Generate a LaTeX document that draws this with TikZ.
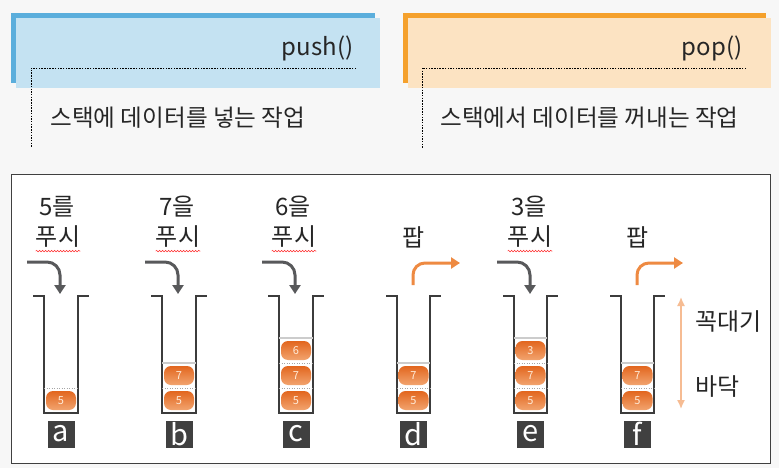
\documentclass[tikz,border=0pt]{standalone}
\usepackage{fontspec}
\setmainfont{Noto Sans CJK KR}
\usepackage{xcolor}
\usetikzlibrary{arrows.meta, positioning, decorations.pathmorphing}

\definecolor{pushdark}{HTML}{5BAEDC}
\definecolor{pushlight}{HTML}{C4E2F2}
\definecolor{popdark}{HTML}{F5A12C}
\definecolor{poplight}{HTML}{FCE3C2}
\definecolor{wallgray}{HTML}{3C3C3C}
\definecolor{pushgray}{HTML}{58595B}
\definecolor{poporange}{HTML}{EE8A42}
\definecolor{sideorange}{HTML}{F6BC93}
\definecolor{itemtop}{HTML}{E2661E}
\definecolor{itembot}{HTML}{F2A46F}

\begin{document}
\begin{tikzpicture}[
    x=1pt, y=-1pt,
    title/.style={anchor=east, font=\fontsize{24}{28}\selectfont, text=black!85},
    desc/.style={anchor=west, font=\fontsize{23.6}{28}\selectfont, text=black!85},
    guide/.style={draw=black, line width=0.8pt, dash pattern=on 1.5pt off 1.2pt},
    frame/.style={draw=black!75, line width=1pt, fill=white},
    wall/.style={draw=wallgray, line width=1.6pt},
    slotline/.style={draw=black!35, line width=0.5pt, dotted},
    topline/.style={draw=black!20, line width=1.2pt},
    item/.style={rectangle, rounded corners=7pt, minimum width=30pt, minimum height=19pt,
        inner sep=0pt, top color=itemtop, bottom color=itembot,
        text=white!85!orange, font=\fontsize{11}{12}\selectfont},
    tag/.style={rectangle, fill=black!75, minimum size=27pt, inner sep=0pt,
        text=white, font=\fontsize{29}{29}\selectfont},
    cmd/.style={inner sep=0pt, font=\fontsize{24}{28}\selectfont, text=black!85},
    squiggle/.style={draw=red!85, line width=0.5pt,
        decorate, decoration={snake, amplitude=0.8pt, segment length=3pt}},
    pusharrow/.style={-{Triangle[width=11pt, length=9pt]}, draw=pushgray, line width=3pt, rounded corners=13pt},
    poparrow/.style={-{Triangle[width=11pt, length=9pt]}, draw=poporange, line width=3pt, rounded corners=12pt},
    sidearrow/.style={{Latex[width=8pt, length=9pt]}-{Latex[width=8pt, length=9pt]}, draw=sideorange, line width=1.5pt}
]

\useasboundingbox (0,0) rectangle (779,468);
\fill[black!3] (0,0) rectangle (779,468);

% push() 상자
\fill[pushdark] (11,13) rectangle (375,83);
\fill[pushlight] (16,18) rectangle (380,88);
\node[title] (pushname) at (357,48) {push()};
\draw[guide] (356,68) -- (31,68) -- (31,148);
\node[desc] (pushdesc) at (47,118) {스택에 데이터를 넣는 작업};

% pop() 상자
\fill[popdark] (403,13) rectangle (766,83);
\fill[poplight] (408,18) rectangle (771,88);
\node[title] (popname) at (746,48) {pop()};
\draw[guide] (746,68) -- (422,68) -- (422,148);
\node[desc] (popdesc) at (437,118) {스택에서 데이터를 꺼내는 작업};

% 아래 테두리
\draw[frame] (11,174) rectangle (770,463);

% 스택 a
\node[cmd] (pusha1) at (57,207) {5를};
\node[cmd] (pusha2) at (58,237) {푸시};
\draw[squiggle] ([yshift=-3pt]pusha2.south west) -- ([yshift=-3pt]pusha2.south east);
\coordinate (ina0) at (27,262);
\coordinate (ina1) at (60,294);
\draw[pusharrow] (ina0) -| (ina1);
\draw[wall] (33,296) -- (44,296) -- (44,413) -- (78,413) -- (78,296) -- (89,296);
\draw[slotline] (44,388) -- (78,388);
\node[item] (a1) at (61,400.5) {5};
\node[tag] (taga) at (61,434) {a};

% 스택 b
\node[cmd] (pushb1) at (177,207) {7을};
\node[cmd] (pushb2) at (178,237) {푸시};
\draw[squiggle] ([yshift=-3pt]pushb2.south west) -- ([yshift=-3pt]pushb2.south east);
\coordinate (inb0) at (145,262);
\coordinate (inb1) at (178,294);
\draw[pusharrow] (inb0) -| (inb1);
\draw[wall] (151,296) -- (162,296) -- (162,413) -- (196,413) -- (196,296) -- (207,296);
\draw[slotline] (162,388) -- (196,388);
\draw[topline] (162,363) -- (196,363);
\node[item] (b1) at (179,400.5) {5};
\node[item] (b2) at (179,375.5) {7};
\node[tag] (tagb) at (179,434) {b};

% 스택 c
\node[cmd] (pushc1) at (293,207) {6을};
\node[cmd] (pushc2) at (294,237) {푸시};
\draw[squiggle] ([yshift=-3pt]pushc2.south west) -- ([yshift=-3pt]pushc2.south east);
\coordinate (inc0) at (262,262);
\coordinate (inc1) at (295,294);
\draw[pusharrow] (inc0) -| (inc1);
\draw[wall] (268,296) -- (279,296) -- (279,413) -- (313,413) -- (313,296) -- (324,296);
\draw[slotline] (279,388) -- (313,388);
\draw[slotline] (279,363) -- (313,363);
\draw[topline] (279,338) -- (313,338);
\node[item] (c1) at (296,400.5) {5};
\node[item] (c2) at (296,375.5) {7};
\node[item] (c3) at (296,350.5) {6};
\node[tag] (tagc) at (296,434) {c};

% 스택 d
\node[cmd] (popd) at (414,237) {팝};
\coordinate (outd0) at (413,285);
\coordinate (outd1) at (460,263);
\draw[poparrow] (outd0) |- (outd1);
\draw[wall] (386,296) -- (397,296) -- (397,413) -- (430,413) -- (430,296) -- (441,296);
\draw[slotline] (397,388) -- (430,388);
\draw[topline] (397,363) -- (430,363);
\node[item] (d1) at (413.5,400.5) {5};
\node[item] (d2) at (413.5,375.5) {7};
\node[tag] (tagd) at (413.5,434) {d};

% 스택 e
\node[cmd] (pushe1) at (529,207) {3을};
\node[cmd] (pushe2) at (530,237) {푸시};
\draw[squiggle] ([yshift=-3pt]pushe2.south west) -- ([yshift=-3pt]pushe2.south east);
\coordinate (ine0) at (497,262);
\coordinate (ine1) at (530,294);
\draw[pusharrow] (ine0) -| (ine1);
\draw[wall] (503,296) -- (514,296) -- (514,413) -- (547,413) -- (547,296) -- (558,296);
\draw[slotline] (514,388) -- (547,388);
\draw[slotline] (514,363) -- (547,363);
\draw[topline] (514,338) -- (547,338);
\node[item] (e1) at (530.5,400.5) {5};
\node[item] (e2) at (530.5,375.5) {7};
\node[item] (e3) at (530.5,350.5) {3};
\node[tag] (tage) at (530.5,434) {e};

% 스택 f
\node[cmd] (popf) at (638,237) {팝};
\coordinate (outf0) at (637,285);
\coordinate (outf1) at (683,263);
\draw[poparrow] (outf0) |- (outf1);
\draw[wall] (610,296) -- (621,296) -- (621,413) -- (654,413) -- (654,296) -- (665,296);
\draw[slotline] (621,388) -- (654,388);
\draw[topline] (621,363) -- (654,363);
\node[item] (f1) at (637.5,400.5) {5};
\node[item] (f2) at (637.5,375.5) {7};
\node[tag] (tagf) at (637.5,434) {f};

% 꼭대기 / 바닥
\coordinate (sidetop) at (681,297);
\coordinate (sidebot) at (681,409);
\draw[sidearrow] (sidetop) -- (sidebot);
\node[cmd, anchor=west] (toplabel) at (695,322) {꼭대기};
\node[cmd, anchor=west] (botlabel) at (695,387) {바닥};

\end{tikzpicture}
\end{document}
